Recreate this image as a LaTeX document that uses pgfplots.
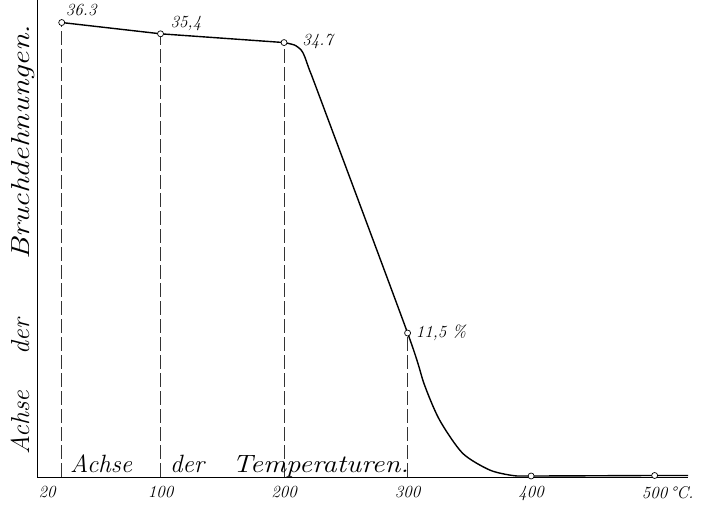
\documentclass[border=0pt]{standalone}
\usepackage{graphicx}
\usepackage{pgfplots}
\pgfplotsset{compat=1.18}
\newcommand\hand{\itshape}
\begin{document}
\begin{tikzpicture}
\begin{axis}[
  scale only axis, width=651pt, height=477pt,
  xmin=0, xmax=527, ymin=0, ymax=38.1,
  axis lines=left,
  axis line style={-, line width=0.9pt, black},
  xtick={20,100,200,300,400,500},
  xticklabels={\makebox[0pt][r]{20\hspace{6pt}},100,200,300,400,500\rlap{\,\textdegree C.}},
  ytick=\empty,
  major tick length=0pt,
  xticklabel style={font=\hand\fontsize{17}{17}\selectfont, yshift=-6pt},
  clip=false,
]
\addplot[ycomb, no markers, black!80, line width=0.6pt, dash pattern=on 14pt off 4pt]
  coordinates {(20,36.3)(100,35.4)(200,34.7)(300,11.5)};
\addplot[black, line width=1.4pt, no markers] coordinates {(20,36.3)(100,35.4)(200,34.7)};
\addplot[black, line width=1.4pt, no markers, smooth, tension=0.45] coordinates {
  (200,34.7)(208.5,34.5)(213.9,34.1)(216.6,33.6)(220.6,32.5)(228.7,30.4)
  (300,11.5)(313.5,7.4)(325.9,4.55)(344.5,1.9)(366.4,0.56)(385,0.12)
  (400,0.08)(500,0.12)(527,0.12)};
\addplot[only marks, mark=*, mark size=3pt, mark options={fill=white, draw=black, line width=0.7pt}]
  coordinates {(20,36.3)(100,35.4)(200,34.7)(300,11.5)(400,0.08)(500,0.12)};
\node[anchor=south west, font=\hand\fontsize{17}{17}\selectfont, inner sep=0pt] at (axis cs:20,36.3) [xshift=4pt, yshift=6pt] {36.3};
\node[anchor=south west, font=\hand\fontsize{17}{17}\selectfont, inner sep=0pt] at (axis cs:100,35.4) [xshift=10pt, yshift=3pt] {35,4};
\node[anchor=west, font=\hand\fontsize{17}{17}\selectfont, inner sep=0pt] at (axis cs:200,34.7) [xshift=18pt, yshift=1pt] {34.7};
\node[anchor=west, font=\hand\fontsize{17}{17}\selectfont, inner sep=0pt] at (axis cs:300,11.5) [xshift=8pt] {11,5 \%};
% x axis title
\node[anchor=base west, font=\hand\fontsize{25}{25}\selectfont, inner sep=0pt] at (axis cs:26.7,0.35) {Achse};
\node[anchor=base west, font=\hand\fontsize{25}{25}\selectfont, inner sep=0pt] at (axis cs:107.7,0.35) {der};
\node[anchor=base west, font=\hand\fontsize{25}{25}\selectfont, inner sep=0pt] at (axis cs:157.9,0.35) {\scalebox{1.15}[1]{Temperaturen.}};
% y axis title
\node[anchor=base west, rotate=90, font=\hand\fontsize{26}{26}\selectfont, inner sep=0pt] at ([xshift=-8pt]rel axis cs:0,0.046) {Achse};
\node[anchor=base west, rotate=90, font=\hand\fontsize{26}{26}\selectfont, inner sep=0pt] at ([xshift=-8pt]rel axis cs:0,0.256) {der};
\node[anchor=base west, rotate=90, font=\hand\fontsize{26}{26}\selectfont, inner sep=0pt] at ([xshift=-8pt]rel axis cs:0,0.455) {\scalebox{1.22}[1]{Bruchdehnungen.}};
\end{axis}
\pgfresetboundingbox
\path[use as bounding box] (-37pt,-34pt) rectangle (665pt,477pt);
\end{tikzpicture}
\end{document}
